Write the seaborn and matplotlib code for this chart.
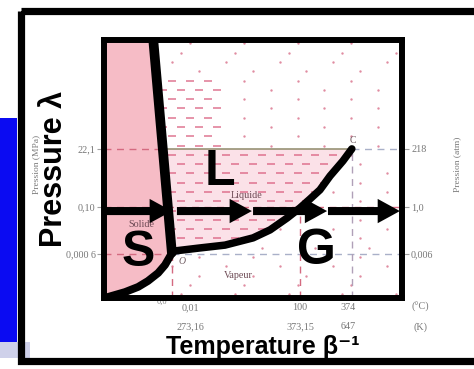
import numpy as np
import matplotlib
matplotlib.use("Agg")
import matplotlib.pyplot as plt
import seaborn as sns
from matplotlib.patches import Rectangle, Polygon, FancyArrowPatch, ArrowStyle
from matplotlib.path import Path
from matplotlib.transforms import ScaledTranslation, blended_transform_factory

# ---- schematic phase diagram of water (both axes on a 0-100 schematic scale) ----
pressure_ticks = [17.1, 35.3, 57.8]
pressure_mpa = ["0,000 6", "0,10", "22,1"]
pressure_atm = ["0,006", "1,0", "218"]

temp_ticks = [22.9, 65.8, 83.2]
temp_celsius = ["0,01", "100", "374"]
temp_kelvin = ["273,16", "373,15", "647"]

triple_point = (22.9, 17.4)
critical_point = (83.2, 57.8)

# fusion (melting) line, sublimation curve, vaporisation curve
melt_t = [16.6, 22.9]
melt_p = [101.0, 17.6]

subl_t = [22.9, 20.6, 18.3, 14.9, 11.6, 7.2, 1.5, -0.5]
subl_p = [17.4, 12.8, 9.7, 6.6, 4.3, 2.3, 0.4, -0.2]

vap_t = [23.6, 32.3, 40.7, 50.1, 55.8, 61.5, 65.8, 69.2, 72.5, 75.9, 80.2, 83.2]
vap_p = [18.2, 19.4, 20.5, 23.3, 26.4, 31.0, 34.9, 38.4, 41.9, 47.3, 53.1, 57.8]

# isobaric heating path at 1 atm
arrow_start = [0.0, 24.6, 50.1, 75.2]
arrow_end = [22.9, 49.7, 74.9, 99.3]
arrow_level = 33.7

phase_letters = ["S", "L", "G"]
letter_t = [11.6, 39.0, 71.2]
letter_p = [17.5, 48.8, 18.2]

region_names = ["Solide", "Liquide", "Vapeur"]
region_t = [12.6, 47.8, 45.1]
region_p = [28.5, 39.8, 8.9]

# ------------------------------------------------------------------
sns.set_theme(style="white")
plt.rcParams["font.family"] = ["Liberation Sans", "DejaVu Sans"]

DPI = 100
W, H = 474, 369
fig = plt.figure(figsize=(W / DPI, H / DPI), dpi=DPI)
fig.patch.set_facecolor("white")

# page layer in pixel units: slide frame, blue band, big titles
bg = fig.add_axes([0, 0, 1, 1], zorder=0)
bg.set_xlim(0, W)
bg.set_ylim(H, 0)
bg.axis("off")
bg.add_patch(Rectangle((0, 118), 17.5, 234, facecolor="#0b0bf2", edgecolor="none"))
bg.add_patch(Rectangle((0, 342), 30, 16, facecolor="#cfd1ea", edgecolor="none"))
bg.add_patch(Rectangle((21, 11), 520, 350, fill=False, edgecolor="black", linewidth=5.2))

serif = ["Liberation Serif", "DejaVu Serif"]
bg.text(36, 164, "Pression (MPa)", rotation=90, ha="center", va="center",
        family=serif, fontsize=6.8, color="#7a7a7a")
bg.text(457, 164, "Pression (atm)", rotation=90, ha="center", va="center",
        family=serif, fontsize=6.8, color="#7a7a7a")

# inner diagram axes
L, B, R, T = 103.5, 298.0, 402.0, 40.0
ax = fig.add_axes([L / W, (H - B) / H, (R - L) / W, (B - T) / H], zorder=1)
ax.set_facecolor("white")

melt_at = lambda p: melt_t[0] + (melt_p[0] - p) / (melt_p[0] - melt_p[1]) * (melt_t[1] - melt_t[0])

solid_poly = [(0, 0), (0, 100), (melt_at(100), 100), (melt_t[1], melt_p[1])] + \
    list(zip(subl_t, subl_p))
ax.add_patch(Polygon(solid_poly, closed=True, facecolor="#f6bcc6", edgecolor="none", zorder=1))

liquid_poly = [(melt_at(critical_point[1]), critical_point[1]), (melt_t[1], melt_p[1])] + \
    list(zip(vap_t, vap_p))
ax.add_patch(Polygon(liquid_poly, closed=True, facecolor="#fbe1e8", edgecolor="none", zorder=1))

# printed texture: short dashes in the liquid, dots in the fluid / vapour
gx, gy = np.meshgrid(np.arange(2.0, 100, 6.0), np.arange(1.5, 100, 3.6))
gx = gx + (np.arange(gx.shape[0])[:, None] % 2) * 3.0
pts = np.column_stack([gx.ravel(), gy.ravel()])
in_liq = Path(liquid_poly).contains_points(pts)
in_sol = Path(solid_poly).contains_points(pts)
upper = (pts[:, 1] > critical_point[1]) & ~in_sol
near = upper & (pts[:, 0] < 40) & (pts[:, 1] < 85)
dash_pts = pts[in_liq | near]
dot_pts = pts[~in_liq & ~in_sol & ~near][::3]
ax.scatter(dash_pts[:, 0], dash_pts[:, 1], marker="_", s=30, linewidths=1.3,
           color="#d95a7c", alpha=0.7, zorder=1.5)
ax.scatter(dot_pts[:, 0], dot_pts[:, 1], marker="o", s=3, linewidths=0,
           color="#d9708a", alpha=0.8, zorder=1.5)

# reference levels
dash = dict(linestyle=(0, (5, 4)), linewidth=1.0, zorder=1.8)
ax.plot([0, melt_at(critical_point[1])], [critical_point[1]] * 2, color="#d46a80", **dash)
ax.plot([melt_at(critical_point[1]), critical_point[0]], [critical_point[1]] * 2,
        color="#8f8a6a", linewidth=1.1, zorder=1.8)
ax.plot([critical_point[0], 100], [critical_point[1]] * 2, color="#a9b0c8", **dash)
ax.plot([0, 100], [pressure_ticks[1]] * 2, color="#d46a80", **dash)
ax.plot([0, triple_point[0]], [pressure_ticks[0]] * 2, color="#d46a80", **dash)
ax.plot([triple_point[0], 100], [pressure_ticks[0]] * 2, color="#a9b0c8", **dash)
ax.plot([temp_ticks[0]] * 2, [0, triple_point[1]], color="#d46a80", **dash)
ax.plot([temp_ticks[1]] * 2, [0, pressure_ticks[1]], color="#d46a80", **dash)
ax.plot([temp_ticks[2]] * 2, [0, critical_point[1]], color="#b0a0b8", **dash)

# region names and point labels
for name, t, p in zip(region_names, region_t, region_p):
    ax.text(t, p, name, ha="center", va="center", family=serif, fontsize=7.3,
            color="#6e4b55", zorder=2)
ax.text(26.3, 14.3, "O", ha="center", va="center", family=serif, style="italic",
        fontsize=7, color="#6e5a60", zorder=2)
ax.text(83.4, 61.0, "C", ha="center", va="center", family=serif, fontsize=7,
        color="#6e5a60", zorder=2)

# phase boundaries
curve = dict(color="black", sort=False, estimator=None, ax=ax, legend=False)
sns.lineplot(x=melt_t, y=melt_p, linewidth=7.0, zorder=3, **curve)
sns.lineplot(x=subl_t, y=subl_p, linewidth=5.6, zorder=3, **curve)
sns.lineplot(x=vap_t, y=vap_p, linewidth=5.4, zorder=3, **curve)
for line in ax.get_lines()[-3:]:
    line.set_solid_capstyle("round")

# heating arrows at constant pressure
style = ArrowStyle("simple", head_length=16, head_width=17.5, tail_width=5.8)
for x0, x1 in zip(arrow_start, arrow_end):
    ax.add_patch(FancyArrowPatch((x0, arrow_level), (x1, arrow_level), arrowstyle=style,
                                 mutation_scale=1, shrinkA=0, shrinkB=0, color="black",
                                 linewidth=0, zorder=4, clip_on=False))

for s, t, p in zip(phase_letters, letter_t, letter_p):
    ax.text(t, p, s, ha="center", va="center", fontsize=36, fontweight="bold",
            color="black", zorder=5)

ax.set_xlim(0, 100)
ax.set_ylim(0, 100)
ax.set_xlabel("")
ax.set_ylabel("")
for sp in ax.spines.values():
    sp.set_visible(True)
    sp.set_color("black")
    sp.set_linewidth(4.3)
    sp.set_zorder(6)

# pressure scales
ax.set_yticks(pressure_ticks, labels=pressure_mpa)
ax.tick_params(axis="y", left=True, length=5, width=0.8, color="#a0a0a0", pad=0.6,
               labelsize=7.3, labelcolor="#777777")
for lab in ax.get_yticklabels():
    lab.set_family(serif)
right = ax.secondary_yaxis("right")
right.set_yticks(pressure_ticks, labels=pressure_atm)
right.tick_params(length=5, width=0.8, color="#a0a0a0", pad=1.5, labelsize=7.3,
                  labelcolor="#777777")
right.spines["right"].set_visible(False)
for lab in right.get_yticklabels():
    lab.set_family(serif)

# temperature scales
ax.set_xticks([])
xt = blended_transform_factory(ax.transData, ax.transAxes)
shift = [19, 0, -4]
for t, c, k, dx in zip(temp_ticks, temp_celsius, temp_kelvin, shift):
    off = ScaledTranslation(dx / DPI, 0, fig.dpi_scale_trans)
    ax.text(t, -0.036, c, transform=xt + off, ha="center", va="center", family=serif,
            fontsize=7.3, color="#777777", clip_on=False)
    ax.text(t, -0.112, k, transform=xt + off, ha="center", va="center", family=serif,
            fontsize=7.3, color="#777777", clip_on=False)
ax.text(19.6, -0.016, "0,0", transform=xt, ha="center", va="center", family=serif,
        fontsize=6, color="#888888", clip_on=False)
ax.text(106.2, -0.036, "(°C)", transform=xt, ha="center", va="center", family=serif,
        fontsize=7.3, color="#777777", clip_on=False)
ax.text(106.2, -0.112, "(K)", transform=xt, ha="center", va="center", family=serif,
        fontsize=7.3, color="#777777", clip_on=False)

# big axis titles drawn on top
fig.text(54 / W, 1 - 169 / H, "Pressure λ", rotation=90, ha="center", va="center",
         fontsize=22, fontweight="bold", color="black", zorder=10)
fig.text(263 / W, 1 - 347 / H, "Temperature β⁻¹", ha="center", va="center",
         fontsize=18, fontweight="bold", color="black", zorder=10)

fig.savefig("out.png", dpi=DPI)
